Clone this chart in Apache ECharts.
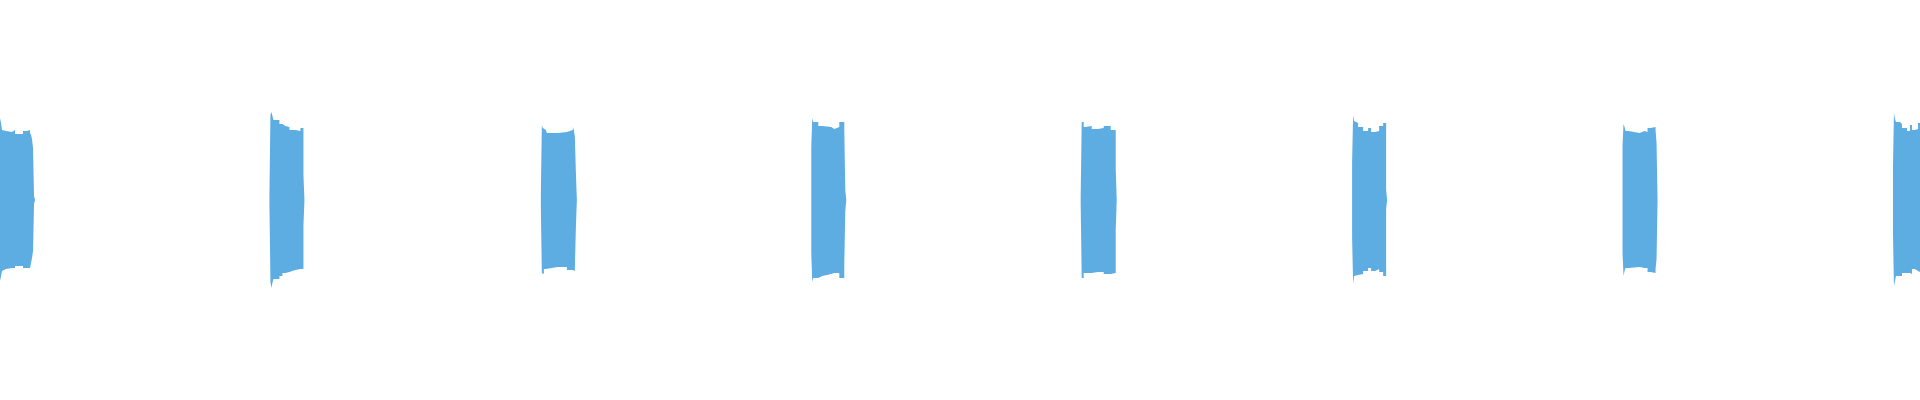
<!DOCTYPE html>
<html>
<head>
<meta charset="utf-8">
<script src="https://cdn.jsdelivr.net/npm/echarts@6/dist/echarts.min.js"></script>
<style>
html,body{margin:0;padding:0;background:#ffffff;}
#chart{width:1920px;height:400px;}
</style>
</head>
<body>
<div id="chart"></div>
<script>
// Time axis in milliseconds, amplitude in [-1, 1]
const timeMaxMs = 7100;
const burstStartsMs = [0, 1000, 2000, 3000, 4000, 5000, 6000, 7000];

// Each burst: [offsetMs, upperEnvelope, lowerEnvelope]
const burst1 = [
  [0, 0.586, -0.579], [3.7, 0.550, -0.543], [7.4, 0.500, -0.507], [11.1, 0.493, -0.493],
  [22.2, 0.486, -0.486], [44.4, 0.500, -0.486], [55.5, 0.471, -0.471], [85.1, 0.493, -0.486],
  [99.9, 0.500, -0.500], [103.6, 0.500, -0.486], [111, 0.479, -0.479], [114.7, 0.464, -0.450],
  [118.4, 0.436, -0.414], [122.1, 0.371, -0.364], [125.8, 0.029, -0.029], [129.5, 0, 0]
];
const burst2 = [
  [-3.7, 0.029, -0.029], [0, 0.607, -0.586], [3.7, 0.629, -0.629], [7.4, 0.600, -0.593],
  [11.1, 0.571, -0.564], [33.3, 0.543, -0.543], [44.4, 0.529, -0.521], [55.5, 0.521, -0.514],
  [70.3, 0.500, -0.500], [92.5, 0.493, -0.493], [111, 0.514, -0.493], [122.1, 0.179, -0.186],
  [125.8, 0, 0]
];
const burst3 = [
  [0, 0.050, -0.057], [3.7, 0.536, -0.521], [7.4, 0.514, -0.529], [11.1, 0.500, -0.493],
  [18.5, 0.486, -0.486], [22.2, 0.479, -0.479], [62.9, 0.486, -0.479], [96.2, 0.500, -0.500],
  [118.4, 0.521, -0.514], [122.1, 0.500, -0.507], [125.8, 0.450, -0.486], [129.5, 0.200, -0.200],
  [133.2, 0, 0]
];
const burst4 = [
  [0, 0.379, -0.379], [3.7, 0.586, -0.586], [7.4, 0.557, -0.557], [25.9, 0.529, -0.543],
  [40.7, 0.521, -0.529], [74, 0.507, -0.521], [85.1, 0.521, -0.521], [103.6, 0.557, -0.557],
  [122.1, 0.500, -0.450], [125.8, 0.071, -0.079], [129.5, 0, 0],
  [148, 0.007, -0.007], [153.5, 0, 0]
];
const burst5 = [
  [-3.7, 0.029, -0.029], [0, 0.557, -0.557], [7.4, 0.521, -0.521], [14.8, 0.529, -0.521],
  [37, 0.507, -0.514], [59.2, 0.514, -0.514], [81.4, 0.529, -0.529], [107.3, 0.500, -0.521],
  [125.8, 0.229, -0.221], [129.5, 0, 0]
];
const burst6 = [
  [0, 0.271, -0.271], [3.7, 0.607, -0.600], [7.4, 0.564, -0.543], [11.1, 0.550, -0.536],
  [22.2, 0.521, -0.529], [40.7, 0.493, -0.507], [59.2, 0.514, -0.486], [70.3, 0.486, -0.507],
  [85.1, 0.493, -0.493], [99.9, 0.529, -0.514], [114.7, 0.550, -0.543], [125.8, 0.071, -0.064],
  [129.5, 0, 0]
];
const burst7 = [
  [0, 0.393, -0.386], [3.7, 0.543, -0.543], [7.4, 0.521, -0.507], [11.1, 0.493, -0.486],
  [22.2, 0.479, -0.479], [62.9, 0.493, -0.486], [81.4, 0.486, -0.486], [92.5, 0.514, -0.514],
  [103.6, 0.521, -0.521], [122.1, 0.500, -0.493], [125.8, 0.407, -0.421], [129.5, 0, 0]
];
const burst8 = [
  [0, 0.236, -0.236], [3.7, 0.621, -0.614], [7.4, 0.579, -0.579], [11.1, 0.557, -0.543],
  [25.9, 0.543, -0.543], [33.3, 0.514, -0.521], [51.8, 0.493, -0.521], [62.9, 0.536, -0.529],
  [70.3, 0.500, -0.493], [81.4, 0.507, -0.507], [92.5, 0.550, -0.521], [107.3, 0.550, -0.520]
];

const bursts = [burst1, burst2, burst3, burst4, burst5, burst6, burst7, burst8];

const upperData = [];
const lowerData = [];
bursts.forEach(function (b, i) {
  const s = burstStartsMs[i];
  b.forEach(function (p) {
    upperData.push([s + p[0], p[1]]);
    lowerData.push([s + p[0], p[2]]);
  });
});

const waveColor = '#5dade2';
const chart = echarts.init(document.getElementById('chart'), null, {renderer: 'canvas'});
chart.setOption({
  backgroundColor: '#ffffff',
  animation: false,
  grid: {left: 0, right: 0, top: 60, bottom: 60},
  xAxis: {type: 'value', min: 0, max: timeMaxMs, show: false},
  yAxis: {type: 'value', min: -1, max: 1, show: false},
  series: [
    {
      type: 'line', data: upperData, step: 'end', showSymbol: false, symbol: 'none',
      lineStyle: {width: 0}, areaStyle: {color: waveColor, opacity: 1}, silent: true
    },
    {
      type: 'line', data: lowerData, step: 'end', showSymbol: false, symbol: 'none',
      lineStyle: {width: 0}, areaStyle: {color: waveColor, opacity: 1}, silent: true
    }
  ]
});
</script>
</body>
</html>
